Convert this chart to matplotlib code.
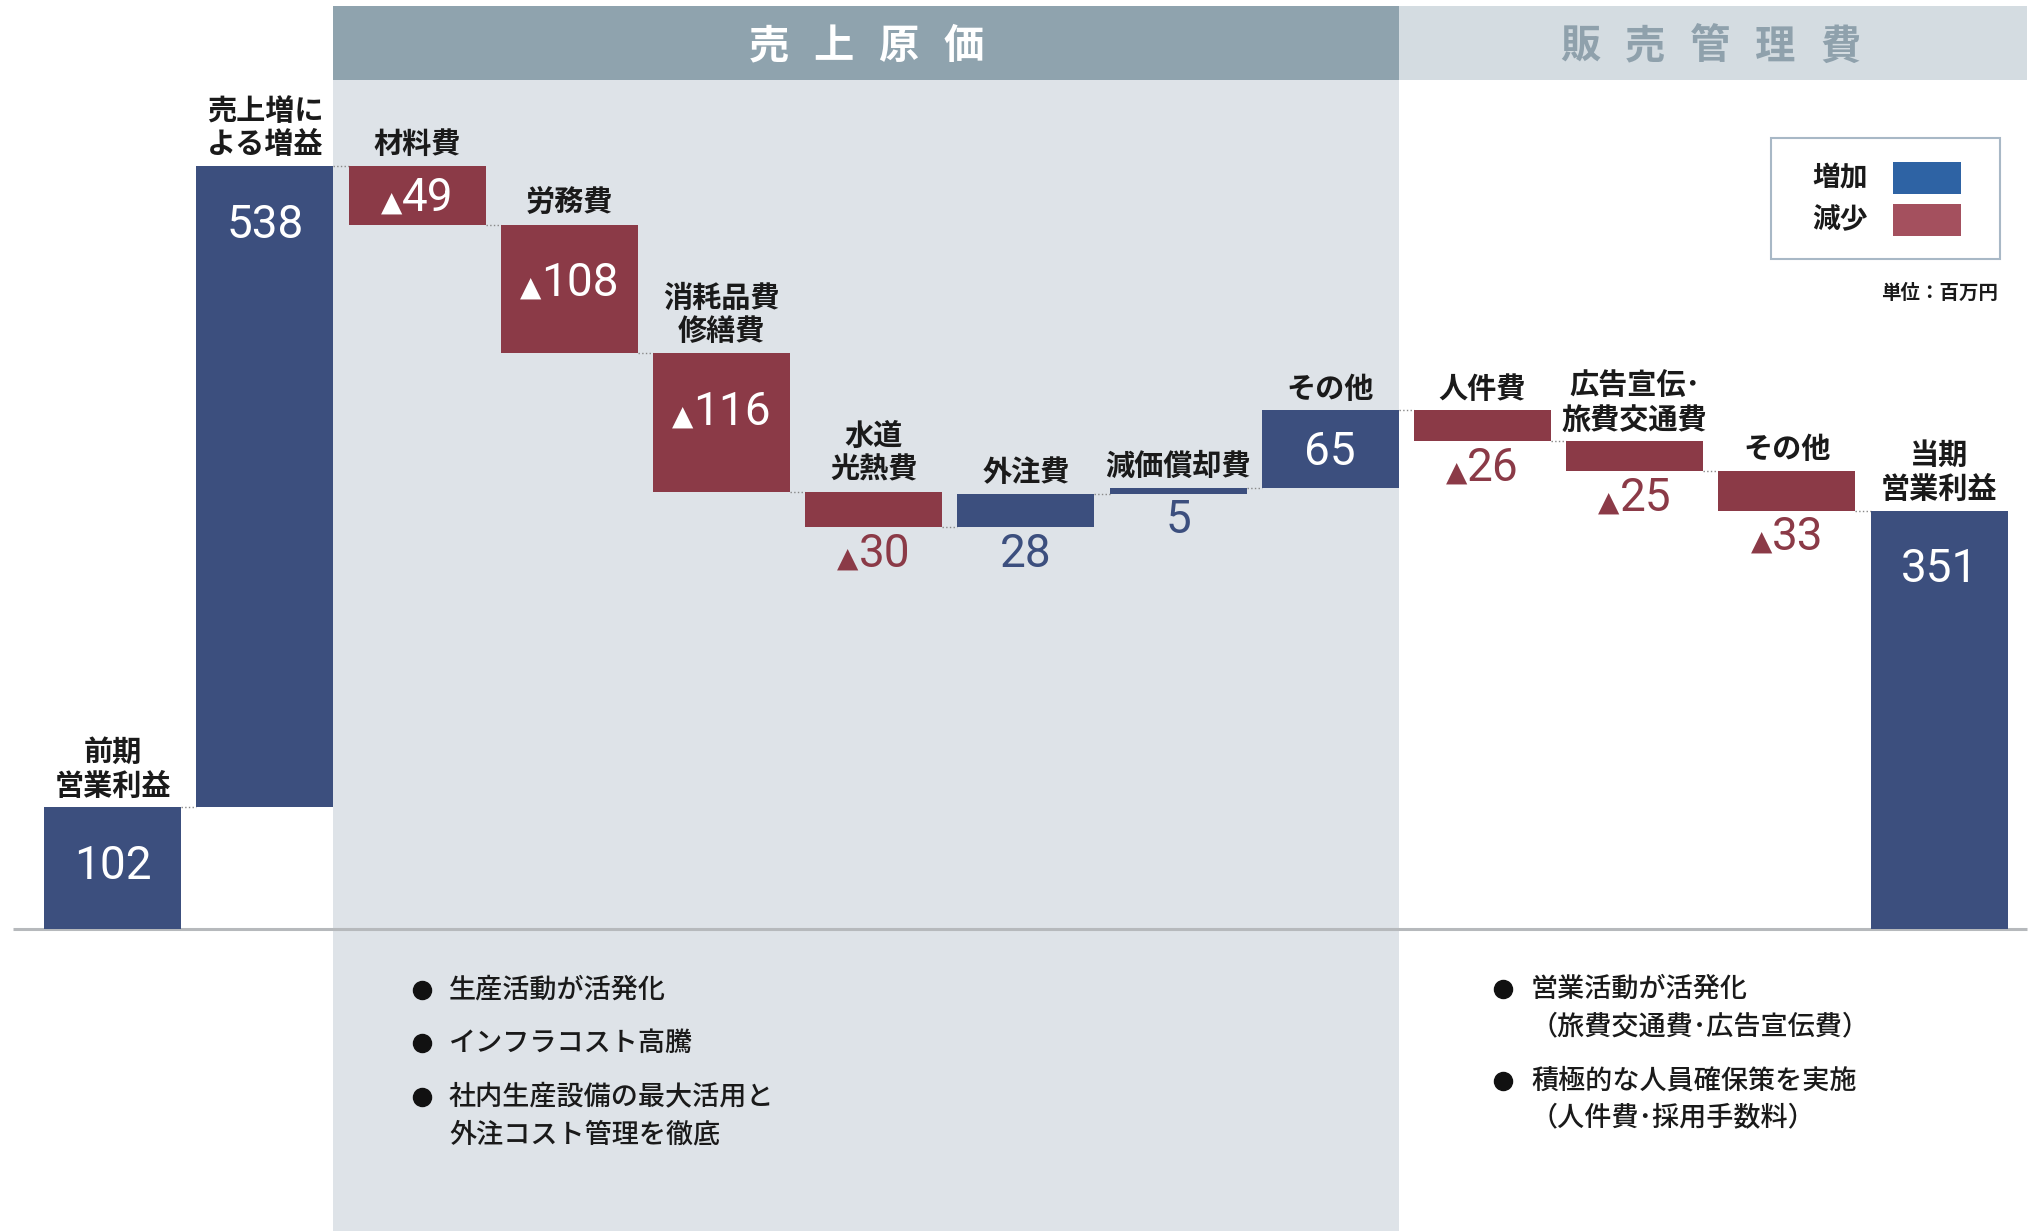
import matplotlib.pyplot as plt
import matplotlib.transforms as mtransforms
from matplotlib.patches import Rectangle
from matplotlib.offsetbox import TextArea, HPacker, AnnotationBbox

plt.rcParams['font.family'] = ['Noto Sans CJK JP', 'DejaVu Sans']

# data (百万円)
start_label = '前期\n営業利益'
start_value = 102
step_labels = ['売上増に\nよる増益', '材料費', '労務費', '消耗品費\n修繕費', '水道\n光熱費',
               '外注費', '減価償却費', 'その他', '人件費', '広告宣伝･\n旅費交通費', 'その他']
step_values = [538, -49, -108, -116, -30, 28, 5, 65, -26, -25, -33]
end_label = '当期\n営業利益'
end_value = 351

left_notes = [['生産活動が活発化'], ['インフラコスト高騰'], ['社内生産設備の最大活用と', '外注コスト管理を徹底']]
right_notes = [['営業活動が活発化', '（旅費交通費･広告宣伝費）'], ['積極的な人員確保策を実施', '（人件費･採用手数料）']]

BLUE = '#3c4f7e'
RED = '#8b3a47'
W, H = 2031, 1231


def fx(px):
    return px / W


def fy(py):
    return 1 - py / H


fig = plt.figure(figsize=(20.31, 12.31), dpi=100)
ax = fig.add_axes([0, 0, 1, 1])
ax.set_xlim(-0.7405, 12.604)
ax.set_ylim(-253.4, 779.4)
ax.axis('off')
bl = mtransforms.blended_transform_factory(ax.transData, ax.transAxes)

# section backgrounds and headers
ax.add_patch(Rectangle((1.45, 0), 7.0, fy(80), transform=bl, color='#dee3e8', lw=0, zorder=0))
ax.add_patch(Rectangle((1.45, fy(80)), 7.0, fy(6) - fy(80), transform=bl, color='#8fa3ae', lw=0, zorder=0))
ax.add_patch(Rectangle((8.45, fy(80)), 4.13, fy(6) - fy(80), transform=bl, color='#d4dce1', lw=0, zorder=0))
for title, cx, col in [('売上原価', 866, 'white'), ('販売管理費', 1710, '#8fa1ac')]:
    n = len(title)
    for i, ch in enumerate(title):
        ax.text(fx(cx + (i - (n - 1) / 2) * 65), fy(47), ch, transform=ax.transAxes,
                ha='center', va='center', fontsize=29, fontweight='bold', color=col)

# baseline
ax.plot([-0.655, 12.577], [0, 0], color='#b6b9bc', lw=2.2, zorder=1, solid_capstyle='butt')

# bars
labels = [start_label] + step_labels + [end_label]
bottoms, heights, colors, values = [0], [start_value], [BLUE], [start_value]
level = start_value
for v in step_values:
    bottoms.append(level if v > 0 else level + v)
    heights.append(abs(v))
    colors.append(BLUE if v > 0 else RED)
    values.append(v)
    level += v
bottoms.append(0)
heights.append(end_value)
colors.append(BLUE)
values.append(end_value)
xs = list(range(len(labels)))
ax.bar(xs, heights, bottom=bottoms, width=0.9, color=colors, zorder=2)

# connectors
level = start_value
for i, v in enumerate([0] + step_values):
    level += v
    ax.plot([i + 0.45, i + 0.55], [level, level], color='#888888', lw=1, ls=':', zorder=1)


def value_label(x, y, v, color):
    parts = []
    if v < 0:
        parts.append(TextArea('▲', textprops=dict(color=color, fontsize=20, family=['DejaVu Sans'])))
    parts.append(TextArea(str(abs(v)), textprops=dict(color=color, fontsize=33, family=['Roboto'])))
    box = HPacker(children=parts, align='baseline', pad=0, sep=0)
    ab = AnnotationBbox(box, (x, y), frameon=False, box_alignment=(0.5, 0.5), pad=0, zorder=4)
    ax.add_artist(ab)


for x, b, h, c, v, lab in zip(xs, bottoms, heights, colors, values, labels):
    top = b + h
    ax.annotate(lab, (x, top), xytext=(0, 5), textcoords='offset points', ha='center', va='bottom',
                fontsize=21, fontweight='bold', color='#1a1a1a', linespacing=1.15, zorder=4)
    if h >= 90:
        value_label(x, top - 49, v, 'white')
    elif h >= 40:
        value_label(x, b + h / 2 - 2, v, 'white')
    else:
        value_label(x, b - 22, v, c)

# legend
ax.add_patch(Rectangle((fx(1771), fy(259)), fx(2000) - fx(1771), fy(138) - fy(259), transform=ax.transAxes,
                       facecolor='white', edgecolor='#a8b8c6', lw=1.5, zorder=3))
for name, col, cy in [('増加', '#2e63a4', 178), ('減少', '#a4505e', 220)]:
    ax.text(fx(1840), fy(cy), name, transform=ax.transAxes, ha='center', va='center',
            fontsize=20, fontweight='bold', color='#1a1a1a', zorder=4)
    ax.add_patch(Rectangle((fx(1893), fy(cy + 16)), fx(1961) - fx(1893), fy(cy - 16) - fy(cy + 16),
                           transform=ax.transAxes, color=col, lw=0, zorder=4))
ax.text(fx(1998), fy(293), '単位：百万円', transform=ax.transAxes, ha='right', va='center',
        fontsize=14, fontweight='bold', color='#1a1a1a')

# notes
for notes, bx, tx, ys in [(left_notes, 422, 449, [990, 1043, 1097]), (right_notes, 1503, 1531, [989, 1081])]:
    for lines, y0 in zip(notes, ys):
        ax.plot([fx(bx)], [fy(y0)], 'o', ms=13, color='#111111', transform=ax.transAxes, zorder=4)
        for k, line in enumerate(lines):
            ax.text(fx(tx), fy(y0 + k * 38), line, transform=ax.transAxes, ha='left', va='center',
                    fontsize=19.5, fontweight=500, color='#1a1a1a', zorder=4)

fig.savefig('out.png', dpi=100)
